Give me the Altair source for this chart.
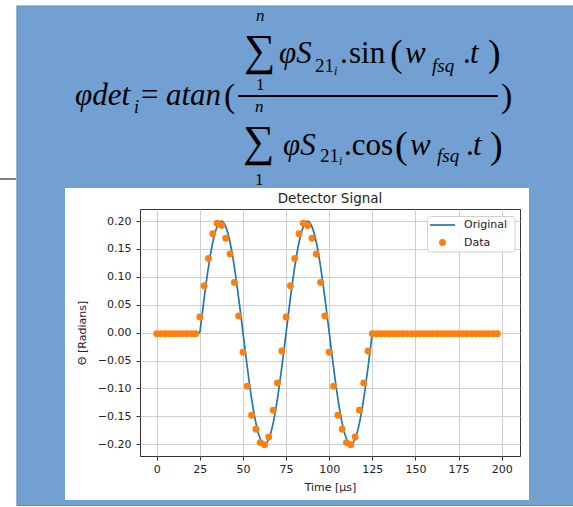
import altair as alt
import pandas as pd

# ---------------- data ----------------
t_data = [0, 2.5, 5, 7.5, 10, 12.5, 15, 17.5, 20, 22.5,
          25, 27.5, 30, 32.5, 35, 37.5, 40, 42.5, 45, 47.5,
          50, 52.5, 55, 57.5, 60, 62.5, 65, 67.5, 70, 72.5,
          75, 77.5, 80, 82.5, 85, 87.5, 90, 92.5, 95, 97.5,
          100, 102.5, 105, 107.5, 110, 112.5, 115, 117.5, 120, 122.5,
          125, 127.5, 130, 132.5, 135, 137.5, 140, 142.5, 145, 147.5,
          150, 152.5, 155, 157.5, 160, 162.5, 165, 167.5, 170, 172.5,
          175, 177.5, 180, 182.5, 185, 187.5, 190, 192.5, 195, 197.5]
y_data = [-0.002, -0.002, -0.002, -0.002, -0.002, -0.002, -0.002, -0.002, -0.002, -0.002,
          0.028, 0.084, 0.133, 0.177, 0.196, 0.192, 0.169, 0.141, 0.090, 0.030,
          -0.035, -0.096, -0.148, -0.173, -0.197, -0.201, -0.187, -0.139, -0.090, -0.033,
          0.028, 0.084, 0.133, 0.177, 0.196, 0.192, 0.169, 0.141, 0.090, 0.030,
          -0.035, -0.096, -0.148, -0.173, -0.197, -0.201, -0.187, -0.139, -0.090, -0.033,
          -0.002, -0.002, -0.002, -0.002, -0.002, -0.002, -0.002, -0.002, -0.002, -0.002,
          -0.002, -0.002, -0.002, -0.002, -0.002, -0.002, -0.002, -0.002, -0.002, -0.002,
          -0.002, -0.002, -0.002, -0.002, -0.002, -0.002, -0.002, -0.002, -0.002, -0.002]

t_line = [0, 25,
          25, 27.5, 30, 32.5, 35, 37.5, 40, 42.5, 45, 47.5,
          50, 52.5, 55, 57.5, 60, 62.5, 65, 67.5, 70, 72.5,
          75, 77.5, 80, 82.5, 85, 87.5, 90, 92.5, 95, 97.5,
          100, 102.5, 105, 107.5, 110, 112.5, 115, 117.5, 120, 122.5, 125,
          125, 199]
y_line = [0, 0,
          0, 0.062, 0.118, 0.162, 0.190, 0.200, 0.190, 0.162, 0.118, 0.062,
          0, -0.062, -0.118, -0.162, -0.190, -0.200, -0.190, -0.162, -0.118, -0.062,
          0, 0.062, 0.118, 0.162, 0.190, 0.200, 0.190, 0.162, 0.118, 0.062,
          0, -0.062, -0.118, -0.162, -0.190, -0.200, -0.190, -0.162, -0.118, -0.062, 0,
          0, 0]
seg_line = ["a", "a"] + ["b"] * 41 + ["c", "c"]

x_ticks = [0, 25, 50, 75, 100, 125, 150, 175, 200]
y_ticks = [-0.20, -0.15, -0.10, -0.05, 0.00, 0.05, 0.10, 0.15, 0.20]

chart_title = "Detector Signal"
x_title = "Time [μs]"
y_title = "Θ [Radians]"
legend_labels = ["Original", "Data"]

# ---------------- layout ----------------
PL, PT, W, H = 140, 209, 380, 247
PR, PB = 573 - PL - W, 507 - PT - H
BLUE = "#72a0d2"
BLUE_EDGE = "#5d8abd"
C0, C1 = "#1f77b4", "#ff7f0e"

one = pd.DataFrame({"k": [0]})


def rect(x1, y1, x2, y2, fill, stroke=None, sw=0, opacity=1, radius=0, filled=True):
    kw = dict(fill=fill, fillOpacity=opacity, cornerRadius=radius)
    if stroke:
        kw.update(stroke=stroke, strokeWidth=sw)
    if not filled:
        kw = dict(fillOpacity=0, stroke=stroke, strokeWidth=sw)
    return alt.Chart(one).mark_rect(**kw).encode(
        x=alt.value(x1 - PL), x2=alt.value(x2 - PL),
        y=alt.value(y1 - PT), y2=alt.value(y2 - PT))


def txt(s, X, Y, size, italic=False, font="Liberation Serif", align="left",
        baseline="alphabetic", color="black"):
    return alt.Chart(one).mark_text(
        text=s, align=align, baseline=baseline, font=font, fontSize=size,
        fontStyle="italic" if italic else "normal", color=color).encode(
        x=alt.value(X - PL), y=alt.value(Y - PT))


layers = []
# blue slide around white chart picture
layers += [
    rect(17, 6, 575, 188, BLUE),
    rect(17, 188, 65, 500, BLUE),
    rect(529, 188, 575, 500, BLUE),
    rect(17, 500, 575, 505.5, BLUE),
    rect(17, 6, 580, 505.5, None, stroke=BLUE_EDGE, sw=1.2, filled=False),
]
# small gray connector on the left
layers.append(alt.Chart(one).mark_rule(color="#808080", strokeWidth=2).encode(
    x=alt.value(0 - PL), x2=alt.value(16 - PL), y=alt.value(179 - PT)))

# formula
F = 31
SUM = "\u2211"
layers += [
    txt("φdet", 75, 105, F, italic=True),
    txt("i", 134, 113, 18, italic=True),
    txt("=", 141, 105, F),
    txt("atan", 166, 105, F, italic=True),
    txt("(", 224, 107, 34),
    txt(")", 501, 107, 34),
    # numerator
    txt(SUM, 244, 65, 44),
    txt("n", 256, 21, 17, italic=True),
    txt("1", 256, 90, 17),
    txt("φS", 279, 63, F, italic=True),
    txt("21", 315, 72, 19),
    txt("i", 334, 75, 12, italic=True),
    txt(".", 340, 63, F),
    txt("sin", 349, 63, F),
    txt("(", 390, 66, 38),
    txt("w", 405, 63, F, italic=True),
    txt("fsq", 432, 72, 19, italic=True),
    txt(".", 463, 63, F),
    txt("t", 470, 63, F, italic=True),
    txt(")", 488, 66, 38),
    # denominator
    txt(SUM, 243, 156, 44),
    txt("n", 255, 112, 17, italic=True),
    txt("1", 255, 185, 17),
    txt("φS", 283, 155, F, italic=True),
    txt("21", 320, 162, 19),
    txt("i", 339, 165, 12, italic=True),
    txt(".cos", 344, 155, F),
    txt("(", 395, 158, 38),
    txt("w", 410, 155, F, italic=True),
    txt("fsq", 437, 162, 19, italic=True),
    txt(".", 466, 155, F),
    txt("t", 473, 155, F, italic=True),
    txt(")", 490, 158, 38),
]
layers.append(alt.Chart(one).mark_rule(color="black", strokeWidth=2).encode(
    x=alt.value(238 - PL), x2=alt.value(498 - PL), y=alt.value(96 - PT)))

# data
xs = alt.Scale(domain=[-9.7, 210.6], nice=False, zero=False)
ys = alt.Scale(domain=[-0.221, 0.2215], nice=False, zero=False)


def x_axis():
    return alt.Axis(values=x_ticks, format="d", title=x_title, titlePadding=7,
                    labelPadding=3, labelOverlap=False)


def y_axis():
    return alt.Axis(values=y_ticks, title=y_title, titlePadding=10, labelPadding=5,
                    labelOverlap=False,
                    labelExpr="replace(format(datum.value, '.2f'), '-', '\u2212')")


line_df = pd.DataFrame({"t": t_line, "v": y_line, "seg": seg_line})
dots_df = pd.DataFrame({"t": t_data, "v": y_data})

line = alt.Chart(line_df).mark_line(color=C0, strokeWidth=1.7, interpolate="monotone").encode(
    x=alt.X("t:Q", scale=xs, axis=x_axis()),
    y=alt.Y("v:Q", scale=ys, axis=y_axis()),
    detail="seg:N")
dots = alt.Chart(dots_df).mark_circle(color=C1, size=48, opacity=1).encode(
    x=alt.X("t:Q", scale=xs, axis=x_axis()),
    y=alt.Y("v:Q", scale=ys, axis=y_axis()))
layers += [line, dots]

# legend (matplotlib style box)
layers += [
    rect(427.5, 216.5, 515, 252, "white", stroke="#d0d0d0", sw=1, opacity=0.85, radius=3),
    alt.Chart(one).mark_rule(color=C0, strokeWidth=1.7).encode(
        x=alt.value(430 - PL), x2=alt.value(455 - PL), y=alt.value(225 - PT)),
    alt.Chart(one).mark_circle(color=C1, size=48, opacity=1).encode(
        x=alt.value(442.5 - PL), y=alt.value(242.5 - PT)),
    txt(legend_labels[0], 464, 225, 11, font="DejaVu Sans", baseline="middle", color="#222"),
    txt(legend_labels[1], 464, 242.5, 11, font="DejaVu Sans", baseline="middle", color="#222"),
]
# chart title
layers.append(txt(chart_title, PL + W / 2, 203, 13.5, font="DejaVu Sans", align="center", color="#222"))

chart = alt.layer(*layers).properties(
    width=W, height=H,
    autosize=alt.AutoSizeParams(type="none"),
    padding={"left": PL, "top": PT, "right": PR, "bottom": PB},
    background="white",
).configure_view(
    stroke="#333", strokeWidth=1, fill="white"
).configure_axis(
    domain=False, tickColor="#333", tickSize=4, tickWidth=1,
    labelFont="DejaVu Sans", labelFontSize=11, labelColor="#222",
    titleFont="DejaVu Sans", titleFontSize=11, titleFontWeight="normal", titleColor="#222",
    gridColor="#cfcfcf", gridWidth=1,
)

chart.save("out.html", embed_options={"renderer": "svg", "actions": False})
